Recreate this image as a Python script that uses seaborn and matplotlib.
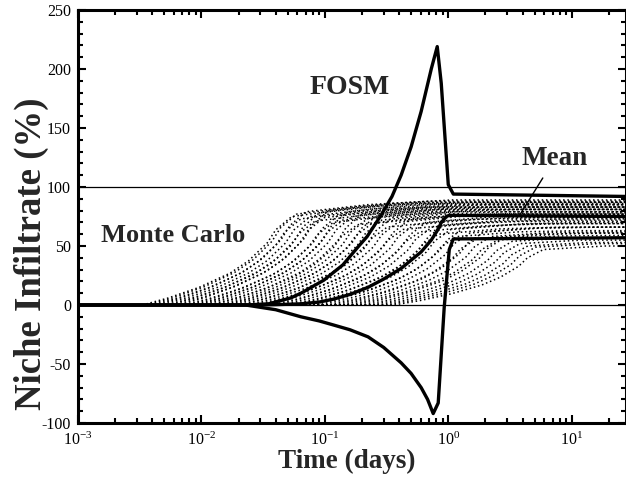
import numpy as np
import pandas as pd
import seaborn as sns
import matplotlib.pyplot as plt
from matplotlib.ticker import MultipleLocator, LogLocator

sns.set_style("ticks")
plt.rcParams['font.family'] = ['Liberation Serif', 'DejaVu Serif']
plt.rcParams['mathtext.fontset'] = 'stix'
plt.rcParams['mathtext.default'] = 'regular'
plt.rcParams['axes.unicode_minus'] = False

# FOSM curves (time in days, niche infiltrate in %)
upper_t = [0.001, 0.0228, 0.035, 0.053, 0.064, 0.098, 0.14, 0.185, 0.22, 0.285, 0.35,
           0.415, 0.5, 0.603, 0.728, 0.814, 0.877, 1.0, 1.099, 27]
upper_v = [0, 0, 1, 6, 10, 21, 34, 49, 58, 76, 92, 110, 134, 164, 200, 219, 188, 102,
           94, 92]

mean_t = [0.001, 0.0228, 0.04, 0.064, 0.09, 0.118, 0.16, 0.224, 0.3, 0.415, 0.5, 0.603,
          0.728, 0.814, 0.88, 0.963, 1.02, 27]
mean_v = [0, 0, 0.3, 1, 2.5, 5, 9, 15, 22, 31, 38, 45, 55, 63, 70, 75, 76, 75]

lower_t = [0.001, 0.0228, 0.04, 0.064, 0.09, 0.118, 0.16, 0.224, 0.3, 0.415, 0.5, 0.603,
           0.68, 0.755, 0.829, 0.927, 1.019, 1.099, 27]
lower_v = [0, 0, -4, -10, -13.5, -17, -21, -27, -36, -49, -58, -70, -80, -92, -83, -2,
           47, 56, 57]

# Monte Carlo runs: knee time, value at the knee, value one decade later
mc_knee_t = [0.054, 0.059, 0.064, 0.070, 0.076, 0.083, 0.090, 0.098, 0.107, 0.117,
             0.128, 0.14, 0.153, 0.167, 0.183, 0.2, 0.22, 0.24, 0.265, 0.29,
             0.32, 0.35, 0.39, 0.43, 0.48, 0.53, 0.59, 0.66, 0.74, 0.83,
             0.93, 1.05, 1.18, 1.33, 1.5, 1.7, 1.95, 2.2, 2.5, 2.85,
             3.3, 3.8, 4.4, 5.1, 5.9]
mc_knee_v = [75, 77, 73, 79, 75, 71, 78, 74, 80, 70, 76, 72, 79, 75, 68, 77, 73, 69,
             76, 72, 66, 74, 70, 64, 72, 68, 62, 70, 66, 60, 68, 64, 58, 65, 61, 56,
             62, 58, 55, 57, 54, 52, 50, 49, 47]
mc_end_v = [86, 87, 83, 88, 85, 81, 87, 83, 89, 79, 85, 81, 87, 83, 77, 85, 81, 77,
            83, 79, 74, 81, 77, 71, 78, 74, 69, 76, 72, 66, 73, 69, 63, 70, 66, 61,
            66, 62, 59, 61, 57, 55, 53, 52, 50]
# shape of the rise before the knee (decades from knee, fraction of knee value)
rise_dx = [-1.21, -1.0, -0.75, -0.5, -0.35, -0.2, -0.13, 0]
rise_fr = [0, 0.08, 0.2, 0.36, 0.5, 0.7, 0.85, 1.0]

rows = []
for i, (tk, vk, ve) in enumerate(zip(mc_knee_t, mc_knee_v, mc_end_v)):
    ts = [0.001] + [tk * 10 ** d for d in rise_dx] + [tk * 10 ** 0.5, tk * 10, 30]
    vs = [0] + [vk * f for f in rise_fr] + [(vk + ve) / 2 + 1.5, ve, ve]
    for t, v in zip(ts, vs):
        rows.append({"run": i, "t": t, "v": v})
mc_df = pd.DataFrame(rows)

fig = plt.figure(figsize=(6.26, 4.79), dpi=100)
ax = fig.add_axes([78 / 626, 1 - 423 / 479, 548 / 626, 413 / 479])

sns.lineplot(data=mc_df, x="t", y="v", units="run", estimator=None, sort=False,
             color="black", lw=1.1, linestyle=(0, (1, 1.8)), ax=ax, zorder=1)

ax.axhline(100, color="black", lw=0.9, zorder=2)
ax.axhline(0, color="black", lw=0.9, zorder=2)

for tt, vv in [(upper_t, upper_v), (mean_t, mean_v), (lower_t, lower_v)]:
    sns.lineplot(x=tt, y=vv, sort=False, estimator=None, color="black", lw=2.4,
                 ax=ax, zorder=3)

ax.set_xscale("log")
ax.set_xlim(1e-3, 10 ** 1.44)
ax.set_ylim(-100, 250)
ax.yaxis.set_major_locator(MultipleLocator(50))
ax.yaxis.set_minor_locator(MultipleLocator(10))
ax.xaxis.set_major_locator(LogLocator(base=10))
ax.xaxis.set_minor_locator(LogLocator(base=10, subs=np.arange(2, 10)))

ax.tick_params(which="both", direction="in", top=True, right=True, width=1.5,
               labelsize=11.5, colors="black")
ax.tick_params(which="major", length=6)
ax.tick_params(which="minor", length=3.5)
ax.tick_params(axis="x", pad=6)
ax.tick_params(axis="y", pad=5)
for s in ax.spines.values():
    s.set_linewidth(2.2)
    s.set_color("black")

ax.set_xlabel("Time (days)", fontsize=19.5, fontweight="bold", va="center")
ax.xaxis.set_label_coords(0.49, -0.093)
ax.set_ylabel("Niche Infiltrate (%)", fontsize=26.5, fontweight="bold", va="center")
ax.yaxis.set_label_coords(-0.0858, 0.409)

ax.text(0.16, 184, "FOSM", fontsize=20, fontweight="bold", ha="center", va="center")
ax.text(0.0059, 59, "Monte Carlo", fontsize=19, fontweight="bold", ha="center", va="center")
ax.annotate("Mean", xy=(3.78, 76), xytext=(7.3, 124), fontsize=19.5, fontweight="bold",
            ha="center", va="center",
            arrowprops=dict(arrowstyle="-", color="black", lw=1, shrinkA=3, shrinkB=0))

fig.savefig("out.png", dpi=100)
